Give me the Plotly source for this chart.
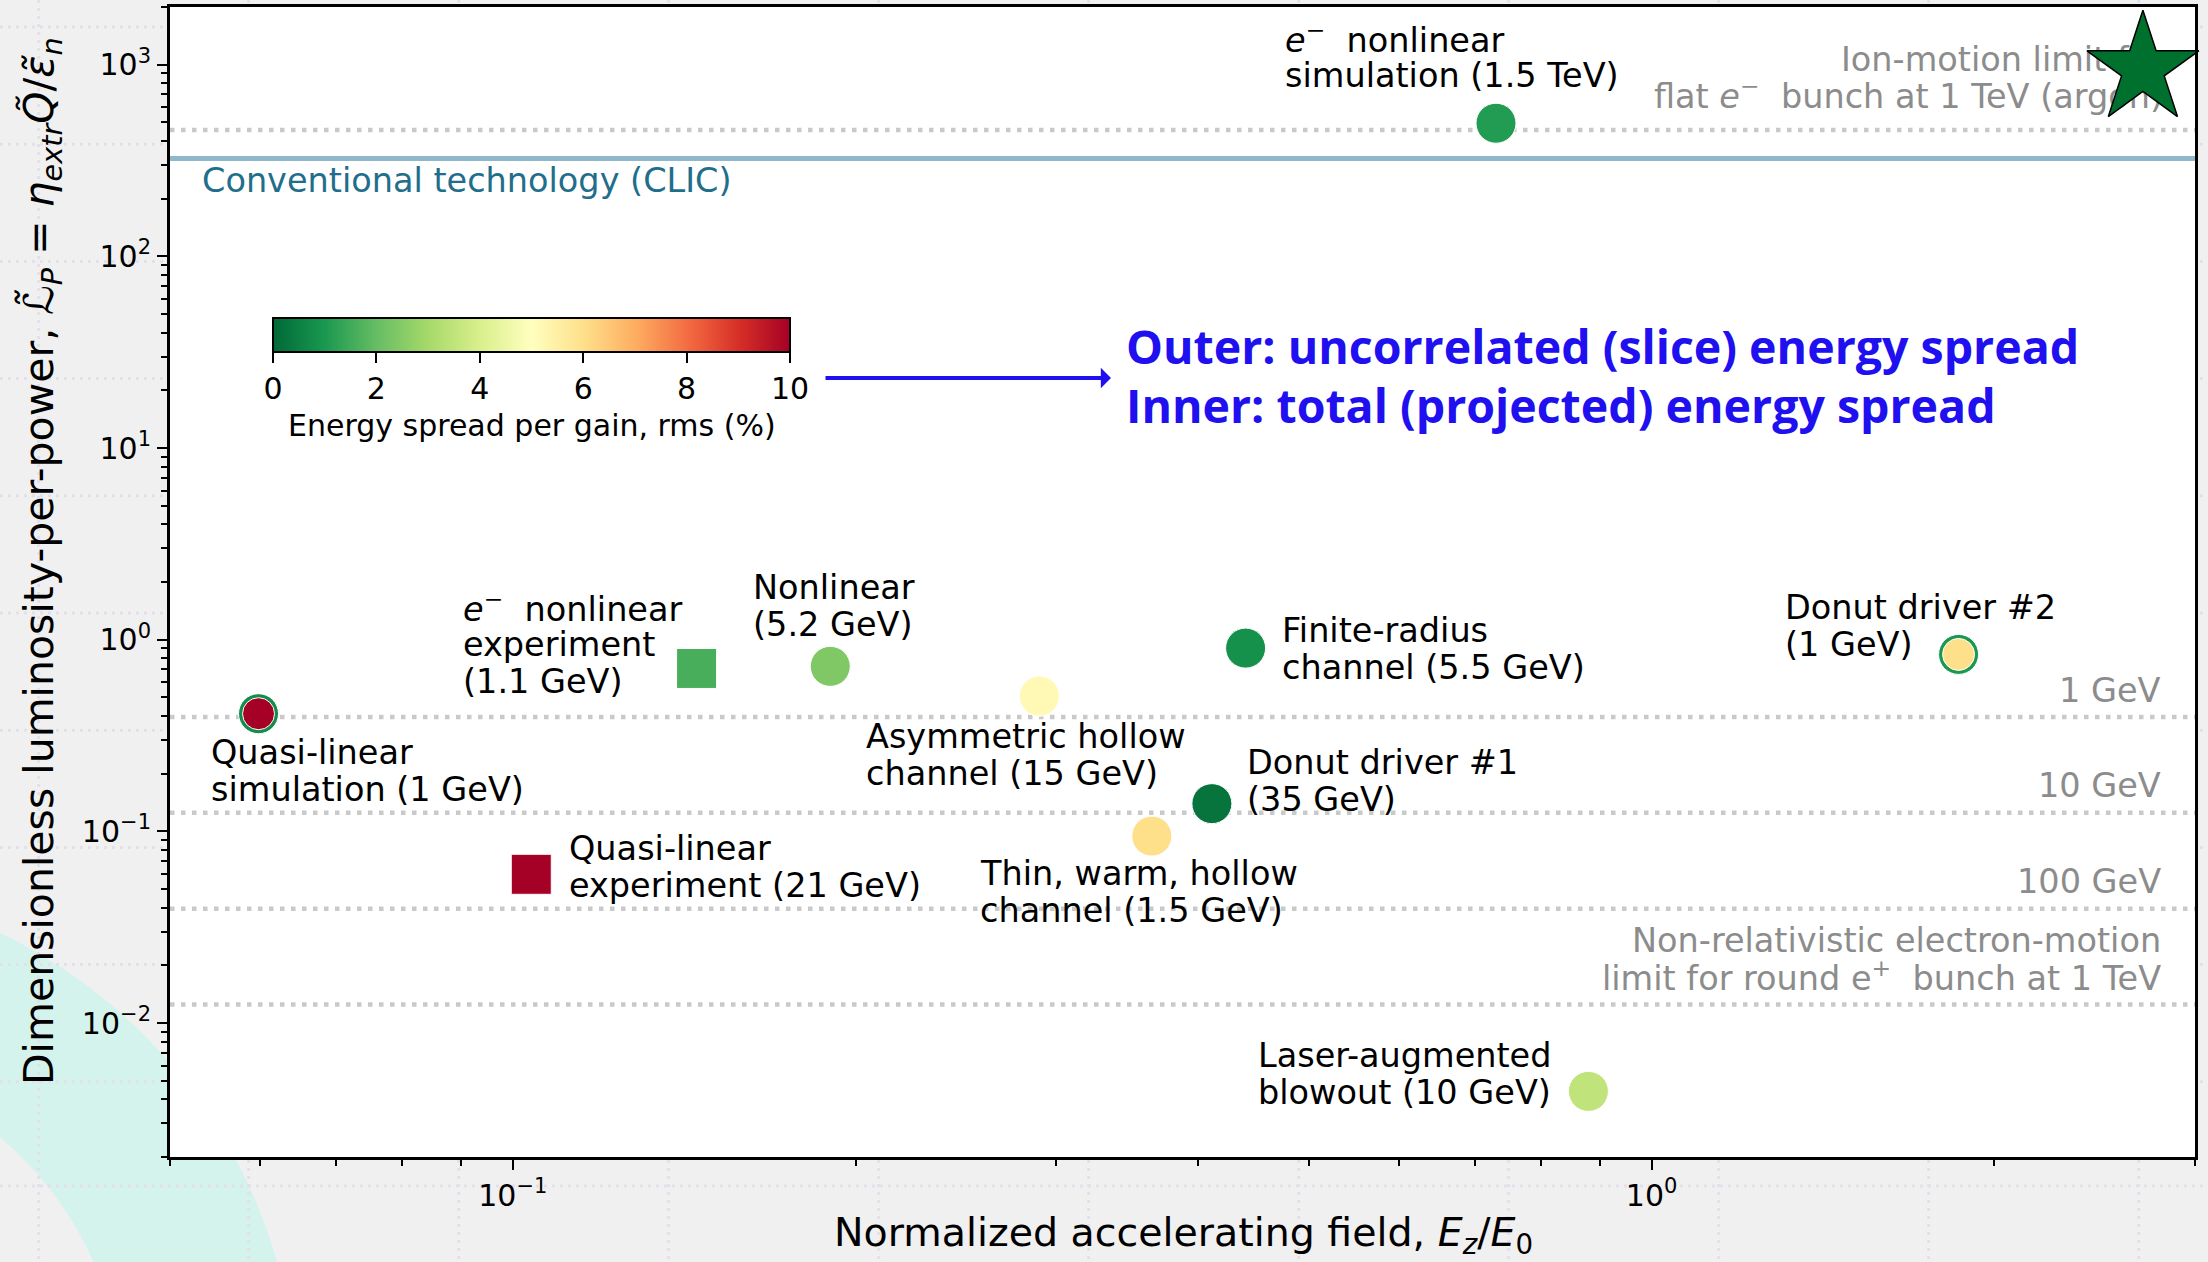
import numpy as np
import plotly.graph_objects as go

# ---------------- data ----------------
NB = "\u00a0"
labels = [
    ["<i>e</i><sup>−</sup>" + NB + " nonlinear", "simulation (1.5 TeV)"],
    ["Quasi-linear", "simulation (1 GeV)"],
    ["<i>e</i><sup>−</sup>" + NB + " nonlinear", "experiment", "(1.1 GeV)"],
    ["Nonlinear", "(5.2 GeV)"],
    ["Quasi-linear", "experiment (21 GeV)"],
    ["Asymmetric hollow", "channel (15 GeV)"],
    ["Finite-radius", "channel (5.5 GeV)"],
    ["Donut driver #2", "(1 GeV)"],
    ["Donut driver #1", "(35 GeV)"],
    ["Thin, warm, hollow", "channel (1.5 GeV)"],
    ["Laser-augmented", "blowout (10 GeV)"],
]
field = [0.730, 0.0598, 0.145, 0.190, 0.1038, 0.290, 0.440, 1.86, 0.411, 0.364, 0.880]
lum_per_power = [495, 0.411, 0.708, 0.726, 0.0597, 0.508, 0.904, 0.838, 0.1395, 0.0945, 0.0044]
slice_spread = [1.1, 0.75, 1.6, 2.4, 10.0, 5.2, 0.85, 1.0, 0.25, 6.0, 3.5]
projected_spread = [1.1, 10.0, 1.6, 2.4, 10.0, 5.2, 0.85, 6.0, 0.25, 6.0, 3.5]
marker_kind = ["circle", "circle", "square", "circle", "square", "circle",
               "circle", "circle", "circle", "circle", "circle"]

# ion-motion limit point (flat e- bunch, 1 TeV, argon)
star_field = [2.7]
star_lum = [950]

# horizontal limits
clic_level = 324
limit_levels = [457, 0.395, 0.125, 0.0395, 0.0125]

colorbar_ticks = [0, 2, 4, 6, 8, 10]
x_major = [0.1, 1]
x_major_text = ["10<sup>−1</sup>", "10<sup>0</sup>"]
y_major = [0.01, 0.1, 1, 10, 100, 1000]
y_major_text = ["10<sup>−2</sup>", "10<sup>−1</sup>", "10<sup>0</sup>",
                "10<sup>1</sup>", "10<sup>2</sup>", "10<sup>3</sup>"]

RDYLGN_R = [
    [0.0, "rgb(0,104,55)"], [0.1, "rgb(26,152,80)"], [0.2, "rgb(102,189,99)"],
    [0.3, "rgb(166,217,106)"], [0.4, "rgb(217,239,139)"], [0.5, "rgb(255,255,191)"],
    [0.6, "rgb(254,224,139)"], [0.7, "rgb(253,174,97)"], [0.8, "rgb(244,109,67)"],
    [0.9, "rgb(215,48,39)"], [1.0, "rgb(165,0,38)"],
]

# ---------------- geometry ----------------
FIG_W, FIG_H = 2208, 1262
L, R, T, B = 170, 2195, 7, 1157
PW, PH = R - L, B - T
X_RANGE = [np.log10(0.05), np.log10(3)]
Y_RANGE = [np.log10(0.002), np.log10(2000)]
X_MIN, X_MAX = 10 ** X_RANGE[0], 10 ** X_RANGE[1]


def pxx(px):
    return (px - L) / PW


def pxy(py):
    return (B - py) / PH


def xval(px):
    return 10 ** (X_RANGE[0] + (px - L) / PW * (X_RANGE[1] - X_RANGE[0]))


def yval(py):
    return 10 ** (Y_RANGE[1] - (py - T) / PH * (Y_RANGE[1] - Y_RANGE[0]))


FONT = "DejaVu Sans"
LBL = 33.5
fig = go.Figure()

# ---------------- limit lines ----------------
for lvl in limit_levels:
    fig.add_trace(go.Scatter(
        x=[X_MIN, X_MAX], y=[lvl, lvl], mode="lines",
        line=dict(color="#c9c9c9", width=4.5, dash="4.5px,6.5px"),
        hoverinfo="skip", showlegend=False))
fig.add_trace(go.Scatter(
    x=[X_MIN, X_MAX], y=[clic_level, clic_level], mode="lines",
    line=dict(color="#8fb8cc", width=5), hoverinfo="skip", showlegend=False))

# ion-motion label sits under the star marker
fig.add_trace(go.Scatter(
    x=[xval(2163), xval(2163)], y=[yval(63), yval(100)], mode="text",
    text=["Ion-motion limit for",
          "flat <i>e</i><sup>−</sup>" + NB + " bunch at 1 TeV (argon)"],
    textposition="middle left",
    textfont=dict(family=FONT, size=LBL, color="#8c8c8c"),
    cliponaxis=False, hoverinfo="skip", showlegend=False))

# ---------------- markers ----------------
sizes_outer = [40] * len(field)
sizes_inner = [32 if p != s else 40 for p, s in zip(projected_spread, slice_spread)]
fig.add_trace(go.Scatter(
    x=field, y=lum_per_power, mode="markers",
    marker=dict(symbol=marker_kind, size=sizes_outer, color=slice_spread, opacity=1,
                colorscale=RDYLGN_R, cmin=0, cmax=10, showscale=True,
                colorbar=dict(
                    orientation="h", x=pxx(531.5), xanchor="center",
                    y=pxy(318), yanchor="top", len=517, lenmode="pixels",
                    thickness=34, thicknessmode="pixels", xpad=0, ypad=0,
                    outlinewidth=2, outlinecolor="black",
                    tickmode="array", tickvals=colorbar_ticks,
                    ticks="outside", ticklen=10, tickwidth=2, tickcolor="black",
                    tickfont=dict(family=FONT, size=30, color="black"))),
    cliponaxis=False, hoverinfo="skip", showlegend=False))
fig.add_trace(go.Scatter(
    x=field, y=lum_per_power, mode="markers",
    marker=dict(symbol=marker_kind, size=sizes_inner, opacity=1,
                color=projected_spread, colorscale=RDYLGN_R, cmin=0, cmax=10,
                showscale=False),
    cliponaxis=False, hoverinfo="skip", showlegend=False))
fig.add_trace(go.Scatter(
    x=star_field, y=star_lum, mode="markers",
    marker=dict(symbol="star", size=84, color="#00702e", opacity=1,
                line=dict(color="black", width=1.5)),
    cliponaxis=False, hoverinfo="skip", showlegend=False))

# ---------------- backdrop decoration ----------------
shapes = []
cx, cy, r_in, r_out = -226.5, 1404.8, 350.5, 523.4
t = np.linspace(-np.pi / 2, 0, 80)
outer = [(cx + r_out * np.cos(a), cy + r_out * np.sin(a)) for a in t]
inner = [(cx + r_in * np.cos(a), cy + r_in * np.sin(a)) for a in t[::-1]]
pts = outer + inner
path = "M " + " L ".join(f"{pxx(px):.5f},{pxy(py):.5f}" for px, py in pts) + " Z"
shapes.append(dict(type="path", path=path, xref="paper", yref="paper",
                   fillcolor="#d3f3ec", line=dict(width=0), layer="below"))
for k in range(11):
    gx = pxx(38.6 + 210 * k)
    shapes.append(dict(type="line", xref="paper", yref="paper", x0=gx, x1=gx,
                       y0=pxy(0), y1=pxy(FIG_H), layer="below",
                       line=dict(color="#e4e0ea", width=3, dash="3px,5px")))
for gy in [27 + 117.2 * k for k in range(10)] + [1186]:
    shapes.append(dict(type="line", xref="paper", yref="paper", x0=pxx(0), x1=pxx(FIG_W),
                       y0=pxy(gy), y1=pxy(gy), layer="below",
                       line=dict(color="#e4e0ea", width=3, dash="3px,5px")))
shapes.append(dict(type="rect", xref="paper", yref="paper", x0=0, x1=1, y0=0, y1=1,
                   fillcolor="white", line=dict(width=0), layer="below"))

# ---------------- text ----------------
ann = []


def add_lines(lines, x_px, y_px, step, anchor="left", color="black", size=LBL, family=FONT):
    for i, line in enumerate(lines):
        ann.append(dict(text=line, x=pxx(x_px), y=pxy(y_px + i * step), xref="paper",
                        yref="paper", xanchor=anchor, yanchor="middle", showarrow=False,
                        font=dict(family=family, size=size, color=color), borderpad=0))


label_pos = [(1284, 38), (210, 752), (462, 607), (752, 587), (568, 848), (865, 736),
             (1281, 630), (1784, 607), (1246, 762), (979, 873), (1257, 1055)]
for lines, (lx, ly) in zip(labels, label_pos):
    add_lines(lines, lx, ly, 37.5)

GRAY = "#8c8c8c"
add_lines(["1 GeV"], 2162, 690, 0, "right", GRAY)
add_lines(["10 GeV"], 2162, 785, 0, "right", GRAY)
add_lines(["100 GeV"], 2162, 881, 0, "right", GRAY)
add_lines(["Non-relativistic electron-motion",
           "limit for round e<sup>+</sup>" + NB + " bunch at 1 TeV"],
          2162, 940, 36, "right", GRAY)
add_lines(["Conventional technology (CLIC)"], 201, 180, 0, "left", "#1f6e8c")

# colorbar caption
add_lines(["Energy spread per gain, rms (%)"], 531.5, 425, 0, "center", "black", 30)

BLUE = "#2010f0"
add_lines(["<b>Outer: uncorrelated (slice) energy spread</b>",
           "<b>Inner: total (projected) energy spread</b>"],
          1125, 346, 59, "left", BLUE, 46.5, "Open Sans")
ann.append(dict(x=pxx(1111), y=pxy(378), xref="paper", yref="paper",
                ax=-287, ay=0, axref="pixel", ayref="pixel", text="", showarrow=True,
                arrowhead=1, arrowsize=0.85, arrowwidth=4, arrowcolor=BLUE))

# axis titles
ann.append(dict(text="Normalized accelerating field, <i>E<sub>z</sub></i>/<i>E</i><sub>0</sub>",
                x=pxx(1183), y=pxy(1235), xref="paper", yref="paper", xanchor="center",
                yanchor="middle", showarrow=False, font=dict(family=FONT, size=39.5, color="black")))
ann.append(dict(text="Dimensionless luminosity-per-power, <i>ℒ̃</i><sub><i>P</i></sub> = "
                     "<i>η</i><sub><i>extr</i></sub><i>Q̃</i>/<i>ε̃</i><sub><i>n</i></sub>",
                x=pxx(42), y=pxy(561), xref="paper", yref="paper", xanchor="center",
                yanchor="middle", textangle=-90, showarrow=False,
                font=dict(family=FONT, size=41, color="black")))

# ---------------- axes ----------------
x_minor = [m * d for d in (0.01, 0.1, 1) for m in range(2, 10)]
y_minor = [m * d for d in (0.001, 0.01, 0.1, 1, 10, 100, 1000) for m in range(2, 10)]
axis_common = dict(showline=True, linewidth=3, linecolor="black", mirror=True,
                   ticks="outside", ticklen=10, tickwidth=2, tickcolor="black",
                   showgrid=False, zeroline=False,
                   tickfont=dict(family=FONT, size=30, color="black"))
fig.update_xaxes(type="log", range=X_RANGE, tickmode="array", tickvals=x_major,
                 ticktext=x_major_text,
                 minor=dict(tickmode="array", tickvals=x_minor, ticks="outside",
                            ticklen=6, tickwidth=1.5, tickcolor="black", showgrid=False),
                 **axis_common)
fig.update_yaxes(type="log", range=Y_RANGE, tickmode="array", tickvals=y_major,
                 ticktext=y_major_text,
                 minor=dict(tickmode="array", tickvals=y_minor, ticks="outside",
                            ticklen=6, tickwidth=1.5, tickcolor="black", showgrid=False),
                 **axis_common)

fig.update_layout(
    width=FIG_W, height=FIG_H,
    margin=dict(l=L, r=FIG_W - R, t=T, b=FIG_H - B, autoexpand=False),
    paper_bgcolor="#f0f0f0", plot_bgcolor="white",
    shapes=shapes, annotations=ann, showlegend=False,
    font=dict(family=FONT, color="black"),
)

fig.write_html("out.html")
